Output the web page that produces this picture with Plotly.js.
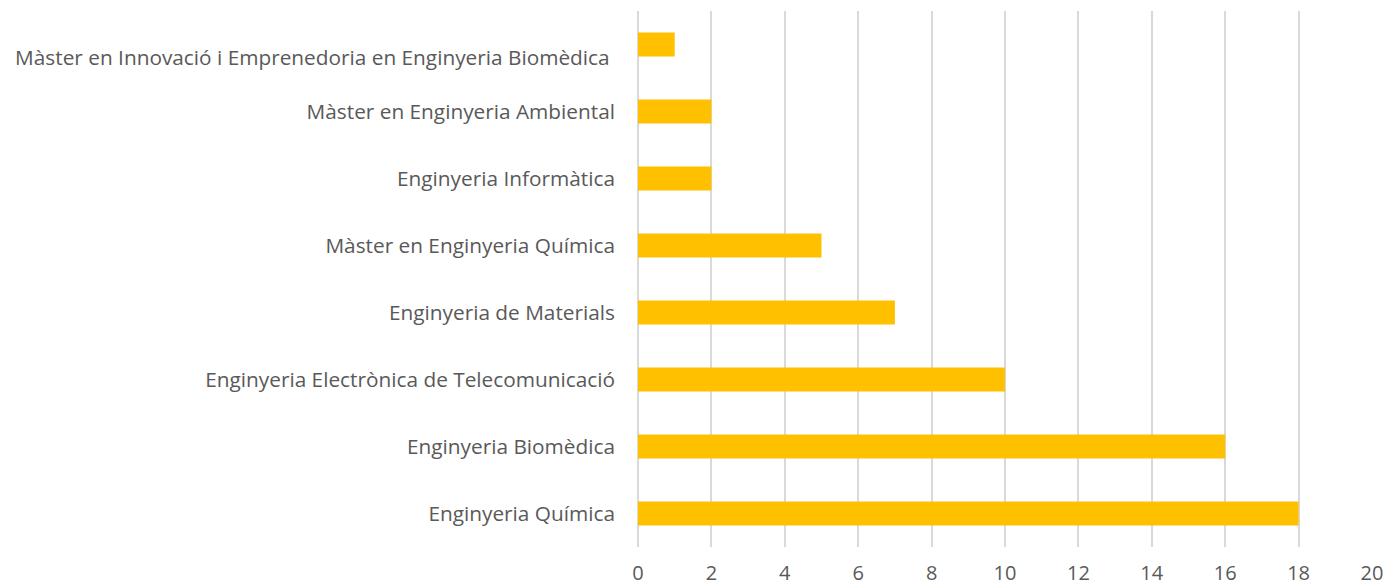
<!DOCTYPE html>
<html><head><meta charset="utf-8">
<script src="https://cdn.plot.ly/plotly-3.0.1.min.js"></script>
<style>html,body{margin:0;padding:0;background:#fff}#chart{width:1388px;height:588px}</style>
</head><body><div id="chart"></div>
<script>
const categories = [
  "Enginyeria Química",
  "Enginyeria Biomèdica",
  "Enginyeria Electrònica de Telecomunicació",
  "Enginyeria de Materials",
  "Màster en Enginyeria Química",
  "Enginyeria Informàtica",
  "Màster en Enginyeria Ambiental",
  "Màster en Innovació i Emprenedoria en Enginyeria Biomèdica"
];
const values = [18, 16, 10, 7, 5, 2, 2, 1];
const xTicks = [0, 2, 4, 6, 8, 10, 12, 14, 16, 18, 20];

// the longest label sits a little below its bar in the reference
const catText = categories.map(c => c.length > 50 ? '<br>' + c + ' ' : c);

Plotly.newPlot('chart', [{
  type: 'bar', orientation: 'h',
  x: values, y: categories,
  marker: {color: '#FFC000'},
  hoverinfo: 'x+y'
}], {
  width: 1388, height: 588,
  margin: {l: 638, r: 16, t: 11, b: 41},
  bargap: 0.64,
  paper_bgcolor: '#fff', plot_bgcolor: '#fff',
  font: {family: 'Open Sans, sans-serif', color: '#595959'},
  xaxis: {
    range: [0, 20], tickvals: xTicks, ticktext: xTicks.map(String),
    showgrid: true, gridcolor: '#D9D9D9', gridwidth: 1.5,
    zeroline: true, zerolinecolor: '#D9D9D9', zerolinewidth: 1.5,
    showline: false, ticks: '',
    ticklabelstandoff: 12,
    tickfont: {size: 20, color: '#595959'}
  },
  yaxis: {
    type: 'category', categoryorder: 'array', categoryarray: categories,
    tickvals: categories, ticktext: catText,
    showgrid: false, zeroline: false, showline: false, ticks: '',
    ticklabelstandoff: 22,
    tickfont: {size: 20.8, color: '#595959'}
  },
  showlegend: false
}, {displayModeBar: false});
</script></body></html>
